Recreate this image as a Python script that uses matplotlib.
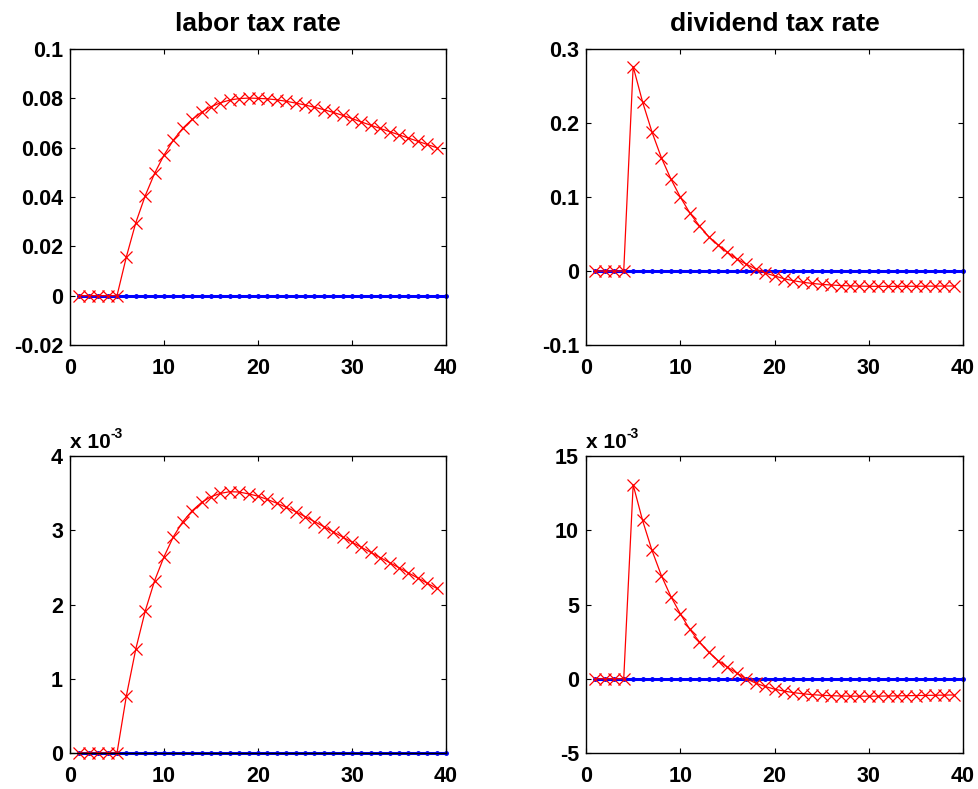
import numpy as np
import matplotlib
matplotlib.use('Agg')
import matplotlib.pyplot as plt

plt.rcParams['font.family'] = ['Liberation Sans', 'DejaVu Sans']
plt.rcParams['font.weight'] = 'bold'

# periods
t_red = np.arange(1, 40)
t_blue = np.arange(1, 41)
zero_line = np.zeros(len(t_blue))

# top row: tax rates
labor_tax = [0, 0, 0, 0, 0, 0.0158, 0.0296, 0.0405, 0.0496, 0.0570,
             0.0631, 0.0679, 0.0715, 0.0744, 0.0766, 0.0782, 0.0793, 0.0799, 0.0801, 0.0800,
             0.0798, 0.0794, 0.0788, 0.0781, 0.0773, 0.0764, 0.0754, 0.0743, 0.0731, 0.0718,
             0.0704, 0.0691, 0.0678, 0.0665, 0.0652, 0.0639, 0.0626, 0.0613, 0.0600]
div_tax = [0, 0, 0, 0, 0.2763, 0.2284, 0.1877, 0.1529, 0.1244, 0.1000,
           0.0787, 0.0615, 0.0466, 0.0353, 0.0253, 0.0163, 0.0093, 0.0027, -0.0025, -0.0066,
           -0.0104, -0.0131, -0.0152, -0.0168, -0.0180, -0.0189, -0.0196, -0.0201, -0.0204, -0.0206,
           -0.0207, -0.0207, -0.0207, -0.0206, -0.0206, -0.0205, -0.0204, -0.0203, -0.0202]

# bottom row, in units of 1e-3
labor_b = [0, 0, 0, 0, 0, 0.772, 1.401, 1.912, 2.321, 2.644,
           2.914, 3.116, 3.264, 3.376, 3.452, 3.497, 3.520, 3.515, 3.490, 3.460,
           3.415, 3.365, 3.310, 3.250, 3.185, 3.118, 3.049, 2.979, 2.909, 2.840,
           2.771, 2.702, 2.633, 2.564, 2.495, 2.426, 2.357, 2.288, 2.219]
div_b = [0, 0, 0, 0, 13.06, 10.66, 8.64, 6.94, 5.54, 4.38,
         3.34, 2.51, 1.80, 1.23, 0.79, 0.38, 0.0, -0.29, -0.52, -0.70,
         -0.83, -0.93, -1.01, -1.07, -1.11, -1.14, -1.16, -1.17, -1.17, -1.17,
         -1.17, -1.16, -1.15, -1.14, -1.13, -1.12, -1.11, -1.10, -1.09]

titles = ['labor tax rate', 'dividend tax rate', None, None]
series = [labor_tax, div_tax, labor_b, div_b]
yticks = [[-0.02, 0, 0.02, 0.04, 0.06, 0.08, 0.1],
          [-0.1, 0, 0.1, 0.2, 0.3],
          [0, 1, 2, 3, 4],
          [-5, 0, 5, 10, 15]]
ylabels = [['-0.02', '0', '0.02', '0.04', '0.06', '0.08', '0.1'],
           ['-0.1', '0', '0.1', '0.2', '0.3'],
           ['0', '1', '2', '3', '4'],
           ['-5', '0', '5', '10', '15']]
xticks = [0, 10, 20, 30, 40]

fig = plt.figure(figsize=(9.79, 7.89), dpi=100)
positions = [[0.0715, 0.5627, 0.3841, 0.3752],
             [0.5986, 0.5627, 0.3851, 0.3752],
             [0.0715, 0.0456, 0.3841, 0.3764],
             [0.5986, 0.0456, 0.3851, 0.3764]]

for i in range(4):
    ax = fig.add_axes(positions[i])
    ax.plot(t_blue, zero_line, color='b', lw=2.2, marker='.', ms=5, clip_on=False)
    ax.plot(t_red, series[i], color='r', lw=0.9, marker='x', ms=8.5, mew=0.9, clip_on=False)
    ax.set_xlim(0, 40)
    ax.set_ylim(yticks[i][0], yticks[i][-1])
    ax.set_xticks(xticks)
    ax.set_xticklabels([str(x) for x in xticks])
    ax.set_yticks(yticks[i])
    ax.set_yticklabels(ylabels[i])
    ax.tick_params(direction='in', top=True, right=True, length=3.5, width=0.8,
                   labelsize=15.5)
    ax.tick_params(axis='x', pad=9)
    ax.tick_params(axis='y', pad=5)
    for s in ax.spines.values():
        s.set_linewidth(1.0)
    if titles[i]:
        ax.set_title(titles[i], fontsize=19, fontweight='bold', pad=13)
    else:
        # MATLAB style exponent label
        ax.text(0.0, 1.012, 'x 10', transform=ax.transAxes, fontsize=15,
                fontweight='bold', ha='left', va='bottom')
        ax.text(0.108, 1.05, '-3', transform=ax.transAxes, fontsize=10,
                fontweight='bold', ha='left', va='bottom')

plt.savefig('out.png', dpi=100)
